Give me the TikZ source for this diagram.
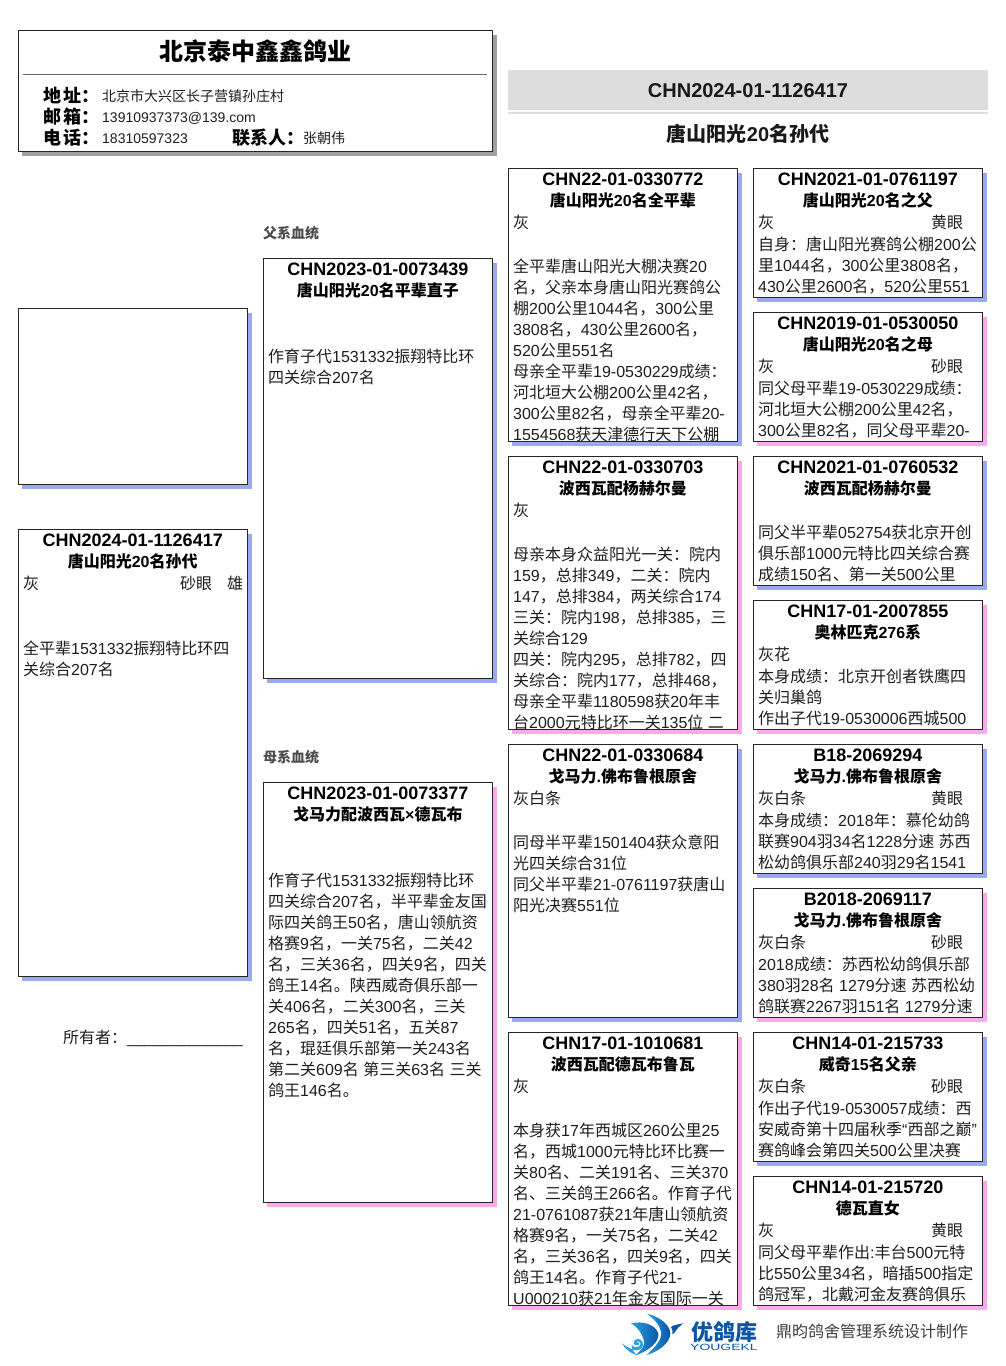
\documentclass[tikz,border=0pt]{standalone}
\usepackage{fontspec}
\usepackage{array}
\setmainfont{Liberation Sans}
\newfontfamily\cjkfont{Noto Sans CJK SC}
\newXeTeXintercharclass\cjkcls
\newcount\cjkcnt
\cjkcnt="4E00 \loop\ifnum\cjkcnt<"A000 \XeTeXcharclass\cjkcnt=\cjkcls \advance\cjkcnt 1 \repeat
\cjkcnt="3000 \loop\ifnum\cjkcnt<"3040 \XeTeXcharclass\cjkcnt=\cjkcls \advance\cjkcnt 1 \repeat
\cjkcnt="FF00 \loop\ifnum\cjkcnt<"FFF0 \XeTeXcharclass\cjkcnt=\cjkcls \advance\cjkcnt 1 \repeat
\XeTeXinterchartoks 0 \cjkcls = {\cjkfont}
\XeTeXinterchartoks 4095 \cjkcls = {\cjkfont}
\XeTeXinterchartoks \cjkcls 0 = {\rmfamily}
\XeTeXinterchartoks \cjkcls 4095 = {\rmfamily}
\XeTeXinterchartoks 4095 0 = {\rmfamily}
\XeTeXinterchartokenstate=1
\definecolor{sblue}{RGB}{155,170,240}
\definecolor{spink}{RGB}{250,170,232}
\definecolor{sgray}{RGB}{160,160,160}
\definecolor{band}{RGB}{221,221,221}
\definecolor{ink}{RGB}{30,30,30}
\definecolor{logoA}{RGB}{10,85,165}
\definecolor{logoB}{RGB}{40,160,225}
\tikzset{
  x=1pt,y=-1pt,
  cardbox/.style={draw=black!85,line width=1pt,fill=white,rectangle,inner sep=0,outer sep=0,anchor=north west},
  tid/.style={font=\fontsize{18}{21}\selectfont\bfseries,anchor=base,inner sep=0,text=black},
  tname/.style={font=\fontsize{16}{21}\selectfont\bfseries,anchor=base,inner sep=0,text=black},
  tbody/.style={font=\fontsize{16}{21}\selectfont,anchor=base west,inner sep=0,text=ink},
  hlabel/.style={font=\fontsize{18}{21}\selectfont\bfseries,anchor=base west,inner sep=0,text=black},
  hvalue/.style={font=\fontsize{14}{21}\selectfont,anchor=base west,inner sep=0,text=ink},
  sidelabel/.style={font=\fontsize{14}{21}\selectfont\bfseries,anchor=base west,inner sep=0,text=black!70},
  plaintext/.style={font=\fontsize{16}{21}\selectfont,anchor=base west,inner sep=0,text=ink},
}
\newcommand\rowset[1]{\begin{tabular}[t]{@{}l@{}}#1\end{tabular}}
% name, x0, y0, x1, y1, shadow, id, title, body
\newcommand\card[9]{%
  \fill[#6] ({#2+4},{#3+4.5}) rectangle ({#4+4.5},{#5+5});
  \node[cardbox,minimum width={(#4-#2-0.4)*1pt},minimum height={(#5-#3+0.3)*1pt}] (#1) at ({#2+0.2},{#3+0.2}) {};
  \begin{scope}
    \clip (#1.north west) rectangle (#1.south east);
    \node[tid] (#1id) at ({(#2+#4)/2},{#3+17}) {#7};
    \node[tname] (#1name) at ({(#2+#4)/2},{#3+38}) {#8};
    \node[tbody] (#1body) at ({#2+5},{#3+60}) {\rowset{#9}};
  \end{scope}
}
\begin{document}
\begin{tikzpicture}
\useasboundingbox (0,0) rectangle (1006,1366);
\fill[white] (0,0) rectangle (1006,1366);
% header
\fill[sgray] (22,34.5) rectangle (497,156);
\node[cardbox,minimum width=474.4pt,minimum height=121pt] (head) at (18.2,30.2) {};
\node[font=\fontsize{24}{28}\selectfont\bfseries,anchor=base,inner sep=0] (firm) at (255.5,60) {北京泰中鑫鑫鸽业};
\coordinate (ruleL) at (23,74.5);
\coordinate (ruleR) at (487,74.5);
\draw[black!60,line width=0.8pt] (ruleL) -- (ruleR);
\node[hlabel,execute at begin node={\spaceskip=2pt}] (addrL) at (43,102) {地 址：};
\node[hvalue] (addrV) at (102,101) {北京市大兴区长子营镇孙庄村};
\node[hlabel,execute at begin node={\spaceskip=2pt}] (mailL) at (43,123) {邮 箱：};
\node[hvalue] (mailV) at (102,122) {13910937373@139.com};
\node[hlabel,execute at begin node={\spaceskip=2pt}] (telL) at (43,144) {电 话：};
\node[hvalue] (telV) at (102,143) {18310597323};
\node[hlabel] (contL) at (232,144) {联系人：};
\node[hvalue] (contV) at (303,143) {张朝伟};
% title band
\fill[band] (508,70) rectangle (988,110);
\fill[band] (508,112) rectangle (988,114);
\node[font=\fontsize{20}{24}\selectfont\bfseries,anchor=base,inner sep=0,text=black!90] (mainid) at (748,97) {CHN2024-01-1126417};
\node[font=\fontsize{20}{24}\selectfont\bfseries,anchor=base,inner sep=0,text=black!90] (mainname) at (748,141) {唐山阳光20名孙代};
% side labels
\node[sidelabel] (fatherline) at (263,238) {父系血统};
\node[sidelabel] (motherline) at (263,762) {母系血统};
\node[plaintext] (owner) at (63,1043) {所有者：\_\_\_\_\_\_\_\_\_\_\_\_\_};
% column 1
\card{photo}{18}{308}{247.5}{484}{sblue}{}{}{}
\card{self}{18}{529.3}{247.5}{976}{sblue}{CHN2024-01-1126417}{唐山阳光20名孙代}{\makebox[157pt][l]{灰}砂眼\hspace{15pt}雄\\ \\ \\[2pt]全平辈1531332振翔特比环四\\关综合207名}
% column 2
\card{sire}{263}{258}{492.7}{678}{sblue}{CHN2023-01-0073439}{唐山阳光20名平辈直子}{\\ \\[2pt]作育子代1531332振翔特比环\\四关综合207名}
\card{dam}{263}{782}{492.7}{1202}{spink}{CHN2023-01-0073377}{戈马力配波西瓦×德瓦布}{\\ \\[2pt]作育子代1531332振翔特比环\\四关综合207名，半平辈金友国\\际四关鸽王50名，唐山领航资\\格赛9名，一关75名，二关42\\名，三关36名，四关9名，四关\\鸽王14名。陕西威奇俱乐部一\\关406名，二关300名，三关\\265名，四关51名，五关87\\名，琨廷俱乐部第一关243名\\第二关609名 第三关63名 三关\\鸽王146名。}
% column 3
\card{ga}{508}{168}{737.7}{441}{sblue}{CHN22-01-0330772}{唐山阳光20名全平辈}{灰\\ \\[2pt]全平辈唐山阳光大棚决赛20\\名，父亲本身唐山阳光赛鸽公\\棚200公里1044名，300公里\\3808名，430公里2600名，\\520公里551名\\母亲全平辈19-0530229成绩：\\河北垣大公棚200公里42名，\\300公里82名，母亲全平辈20-\\1554568获天津德行天下公棚}
\card{gb}{508}{456}{737.7}{729}{spink}{CHN22-01-0330703}{波西瓦配杨赫尔曼}{灰\\ \\[2pt]母亲本身众益阳光一关：院内\\159，总排349，二关：院内\\147，总排384，两关综合174\\三关：院内198，总排385，三\\关综合129\\四关：院内295，总排782，四\\关综合：院内177，总排468，\\母亲全平辈1180598获20年丰\\台2000元特比环一关135位 二}
\card{gc}{508}{744}{737.7}{1017}{sblue}{CHN22-01-0330684}{戈马力.佛布鲁根原舍}{灰白条\\ \\[2pt]同母半平辈1501404获众意阳\\光四关综合31位\\同父半平辈21-0761197获唐山\\阳光决赛551位}
\card{gd}{508}{1032}{737.7}{1305}{spink}{CHN17-01-1010681}{波西瓦配德瓦布鲁瓦}{灰\\ \\[2pt]本身获17年西城区260公里25\\名，西城1000元特比环比赛一\\关80名、二关191名、三关370\\名、三关鸽王266名。作育子代\\21-0761087获21年唐山领航资\\格赛9名，一关75名，二关42\\名，三关36名，四关9名，四关\\鸽王14名。作育子代21-\\U000210获21年金友国际一关}
% column 4
\card{ha}{753}{168}{982.7}{297}{sblue}{CHN2021-01-0761197}{唐山阳光20名之父}{\makebox[173pt][l]{灰}黄眼\\[1pt]自身：唐山阳光赛鸽公棚200公\\里1044名，300公里3808名，\\430公里2600名，520公里551}
\card{hb}{753}{312}{982.7}{441}{spink}{CHN2019-01-0530050}{唐山阳光20名之母}{\makebox[173pt][l]{灰}砂眼\\[1pt]同父母平辈19-0530229成绩：\\河北垣大公棚200公里42名，\\300公里82名，同父母平辈20-}
\card{hc}{753}{456}{982.7}{585}{sblue}{CHN2021-01-0760532}{波西瓦配杨赫尔曼}{\\[1pt]同父半平辈052754获北京开创\\俱乐部1000元特比四关综合赛\\成绩150名、第一关500公里}
\card{hd}{753}{600}{982.7}{729}{spink}{CHN17-01-2007855}{奥林匹克276系}{灰花\\[1pt]本身成绩：北京开创者铁鹰四\\关归巢鸽\\作出子代19-0530006西城500}
\card{he}{753}{744}{982.7}{873}{sblue}{B18-2069294}{戈马力.佛布鲁根原舍}{\makebox[173pt][l]{灰白条}黄眼\\[1pt]本身成绩：2018年：慕伦幼鸽\\联赛904羽34名1228分速 苏西\\松幼鸽俱乐部240羽29名1541}
\card{hf}{753}{888}{982.7}{1017}{spink}{B2018-2069117}{戈马力.佛布鲁根原舍}{\makebox[173pt][l]{灰白条}砂眼\\[1pt]2018成绩：苏西松幼鸽俱乐部\\380羽28名 1279分速 苏西松幼\\鸽联赛2267羽151名 1279分速}
\card{hg}{753}{1032}{982.7}{1161}{sblue}{CHN14-01-215733}{威奇15名父亲}{\makebox[173pt][l]{灰白条}砂眼\\[1pt]作出子代19-0530057成绩：西\\安威奇第十四届秋季“西部之巅”\\赛鸽峰会第四关500公里决赛}
\card{hh}{753}{1176}{982.7}{1305}{spink}{CHN14-01-215720}{德瓦直女}{\makebox[173pt][l]{灰}黄眼\\[1pt]同父母平辈作出:丰台500元特\\比550公里34名，暗插500指定\\鸽冠军，北戴河金友赛鸽俱乐}
% footer logo
\begin{scope}[shift={(615,1305)},x=0.3333pt,y=-0.3333pt]
  \shade[left color=logoB,right color=logoA] (95,26) .. controls (135,35) and (165,60) .. (166,85) .. controls (165,115) and (130,140) .. (95,150) .. controls (120,125) and (142,105) .. (138,80) .. controls (134,58) and (115,40) .. (95,26) -- cycle;
  \shade[left color=logoB,right color=logoA] (48,55) .. controls (85,46) and (122,60) .. (130,85) .. controls (134,112) and (100,138) .. (60,152) .. controls (78,136) and (92,122) .. (86,104) .. controls (80,84) and (68,66) .. (48,55) -- cycle;
  \fill[logoA] (168,66) .. controls (180,58) and (192,58) .. (205,55) .. controls (195,62) and (190,68) .. (186,72) .. controls (182,80) and (178,84) .. (172,88) .. controls (174,80) and (173,72) .. (168,66) -- cycle;
  \fill[logoB] (20,115) .. controls (35,125) and (50,135) .. (65,136) .. controls (80,135) and (88,122) .. (82,110) .. controls (76,98) and (58,100) .. (56,112) .. controls (55,120) and (66,124) .. (72,118) .. controls (74,114) and (70,110) .. (66,112) .. controls (64,106) and (76,108) .. (77,116) .. controls (76,128) and (58,130) .. (50,120) .. controls (48,130) and (60,146) .. (65,150) .. controls (45,145) and (30,130) .. (20,115) -- cycle;
\end{scope}
\node[font=\fontsize{22}{24}\selectfont\bfseries,anchor=base west,inner sep=0,text=logoA] (brand) at (691,1340) {优鸽库};
\node[font=\fontsize{9}{10}\selectfont,anchor=base west,inner sep=0,text=logoA] (brandlat) at (690,1350) {\scalebox{1.55}[1]{YOUGEKL}};
\node[plaintext,text=black!75] (credit) at (776,1337) {鼎昀鸽舍管理系统设计制作};
\end{tikzpicture}
\end{document}
